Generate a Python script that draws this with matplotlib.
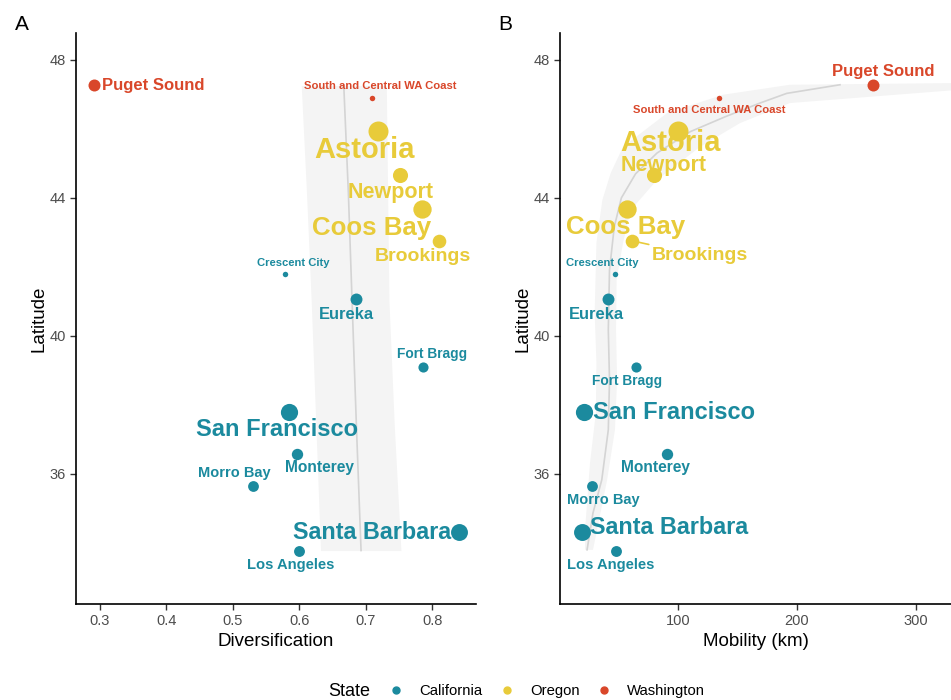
import numpy as np
import matplotlib
matplotlib.use("Agg")
import matplotlib.pyplot as plt
from matplotlib.lines import Line2D

plt.rcParams['font.family'] = ['Liberation Sans', 'DejaVu Sans']

# ports
ports = ["Crescent City", "Eureka", "Fort Bragg", "San Francisco", "Monterey",
         "Morro Bay", "Santa Barbara", "Los Angeles",
         "Astoria", "Newport", "Coos Bay", "Brookings",
         "Puget Sound", "South and Central WA Coast"]
state = ["California"] * 8 + ["Oregon"] * 4 + ["Washington"] * 2
latitude = [41.79, 41.07, 39.11, 37.79, 36.58, 35.66, 34.31, 33.78,
            45.94, 44.65, 43.68, 42.76, 47.26, 46.89]
diversification = [0.578, 0.686, 0.786, 0.585, 0.596, 0.530, 0.840, 0.600,
                   0.718, 0.752, 0.784, 0.810, 0.291, 0.709]
mobility = [46.7, 40.5, 64.4, 20.8, 90.2, 27.6, 18.6, 47.5,
            100.0, 79.8, 56.5, 60.7, 264.3, 134.0]
# size aesthetic (relative), drives both point and label size
size_val = [8.1, 11.9, 9.9, 17.0, 11.2, 10.5, 16.8, 10.6,
            21.0, 15.5, 18.6, 14.0, 12.0, 8.1]

# smoother for panel A (diversification ~ latitude)
smoothA_lat = [33.78, 37.4, 41.0, 44.1, 47.26]
smoothA_fit = [0.693, 0.686, 0.6795, 0.674, 0.667]
smoothA_lo = [0.632, 0.625, 0.618, 0.611, 0.603]
smoothA_hi = [0.753, 0.743, 0.735, 0.733, 0.731]

# smoother for panel B (mobility ~ latitude)
smoothB_fit_x = [23.1, 28.1, 35.5, 41.0, 42.0, 41.0, 42.0, 46.0, 52.0, 64.0,
                 82.0, 110.0, 140.0, 168.8, 191.3, 236.2]
smoothB_fit_lat = [33.80, 34.87, 35.83, 37.28, 38.72, 40.17, 41.91, 43.16, 44.00, 44.70,
                   45.30, 45.92, 46.36, 46.75, 47.03, 47.28]
smoothB_outer_x = [21.4, 21.4, 25.6, 30.5, 31.0, 29.5, 31.0, 36.0, 43.0, 53.4,
                   90.5, 137.6, 194.0, 335.0]
smoothB_outer_lat = [33.80, 34.38, 36.32, 37.77, 39.22, 40.67, 42.70, 43.94, 44.72, 45.48,
                     46.46, 46.99, 47.28, 47.33]
smoothB_inner_x = [28.1, 31.5, 40.0, 46.6, 48.4, 47.5, 48.0, 53.4, 60.0, 82.0,
                   118.3, 152.0, 194.0, 335.0]
smoothB_inner_lat = [33.80, 34.38, 35.83, 37.28, 38.72, 40.17, 41.62, 42.70, 43.65, 44.52,
                     45.48, 46.17, 46.75, 47.13]

state_colors = {"California": "#1B8A9E", "Oregon": "#E8CB3A", "Washington": "#D9472A"}

# label placement (pixel offsets from the point, ha)
offsA = [(9, 11, "center"), (-10, -15, "center"), (9, 13, "center"), (-12, -17, "center"),
         (23, -14, "center"), (-18, 13, "center"), (-8, 0, "right"), (-9, -14, "center"),
         (-13, -19, "center"), (-10, -17, "center"), (-50, -19, "center"), (-16, -16, "center"),
         (8, 0, "left"), (9, 12, "center")]
offsB = [(-13, 11, "center"), (-11, -15, "center"), (-9, -14, "center"), (9, 0, "left"),
         (-11, -14, "center"), (11, -14, "center"), (8, 5, "left"), (-5, -14, "center"),
         (-8, -12, "center"), (9, 10, "center"), (-1, -18, "center"), (68, -15, "center"),
         (10, 14, "center"), (-9, -12, "center")]


def radius(v):
    return np.interp(v, [8, 10, 12, 15, 17, 21], [2.6, 5.2, 6.0, 7.2, 8.6, 10.0])


fig = plt.figure(figsize=(9.51, 7.0), dpi=100)
axA = fig.add_axes([76 / 951, 1 - 604 / 700, (476 - 76) / 951, (604 - 33) / 700])
axB = fig.add_axes([560 / 951, 1 - 604 / 700, (951 - 560) / 951, (604 - 33) / 700])

band_col = "#F4F4F4"
line_col = "#D4D4D4"

axA.fill_betweenx(smoothA_lat, smoothA_lo, smoothA_hi, color=band_col, lw=0, zorder=1)
axA.plot(smoothA_fit, smoothA_lat, color=line_col, lw=1.2, zorder=2)

axB.fill(smoothB_outer_x + smoothB_inner_x[::-1],
         smoothB_outer_lat + smoothB_inner_lat[::-1], color=band_col, lw=0, zorder=1)
axB.plot(smoothB_fit_x, smoothB_fit_lat, color=line_col, lw=1.2, zorder=2,
         solid_joinstyle="round")

for ax, xs, offs in [(axA, diversification, offsA), (axB, mobility, offsB)]:
    for i, name in enumerate(ports):
        col = state_colors[state[i]]
        r = radius(size_val[i])
        ax.scatter(xs[i], latitude[i], s=(1.44 * r) ** 2, color=col, lw=0, zorder=3)
        dx, dy, ha = offs[i]
        arrow = None
        if ax is axB and name == "Brookings":
            arrow = dict(arrowstyle="-", color=col, lw=1.2, shrinkA=0, shrinkB=3)
        ax.annotate(name, (xs[i], latitude[i]), xytext=(dx, dy), textcoords="offset pixels",
                    ha=ha, va="center", fontsize=size_val[i], fontweight="bold",
                    color=col, zorder=4, arrowprops=arrow)

axA.set_xlim(0.264, 0.866)
axB.set_xlim(0.3, 329.7)
for ax in (axA, axB):
    ax.set_ylim(32.23, 48.78)
    ax.set_yticks([36, 40, 44, 48])
    ax.spines["top"].set_visible(False)
    ax.spines["right"].set_visible(False)
    ax.spines["left"].set_linewidth(1.2)
    ax.spines["bottom"].set_linewidth(1.2)
    ax.tick_params(labelsize=10.5, labelcolor="#4D4D4D", color="#333333", length=4, width=1)
    ax.set_ylabel("Latitude", fontsize=13.5, labelpad=1)
axA.set_xticks([0.3, 0.4, 0.5, 0.6, 0.7, 0.8])
axA.set_xticklabels(["0.3", "0.4", "0.5", "0.6", "0.7", "0.8"])
axB.set_xticks([100, 200, 300])
axA.set_xlabel("Diversification", fontsize=13.5, labelpad=3)
axB.set_xlabel("Mobility (km)", fontsize=13.5, labelpad=3)

fig.text(22 / 951, 1 - 25 / 700, "A", fontsize=15, va="center", ha="center")
fig.text(505 / 951, 1 - 25 / 700, "B", fontsize=15, va="center", ha="center")

# legend
fig.text(328 / 951, 1 - 691 / 700, "State", fontsize=13, va="center", ha="left")
handles = [Line2D([], [], marker="o", ls="", color=state_colors[s], markersize=5)
           for s in ["California", "Oregon", "Washington"]]
fig.legend(handles, ["California", "Oregon", "Washington"], loc="center left",
           bbox_to_anchor=(389 / 951, 1 - 691 / 700), ncol=3, frameon=False,
           fontsize=10.7, handlelength=1.0, handletextpad=1.05, columnspacing=1.15,
           borderpad=0, borderaxespad=0)

fig.savefig("out.png", dpi=100, facecolor="white")
